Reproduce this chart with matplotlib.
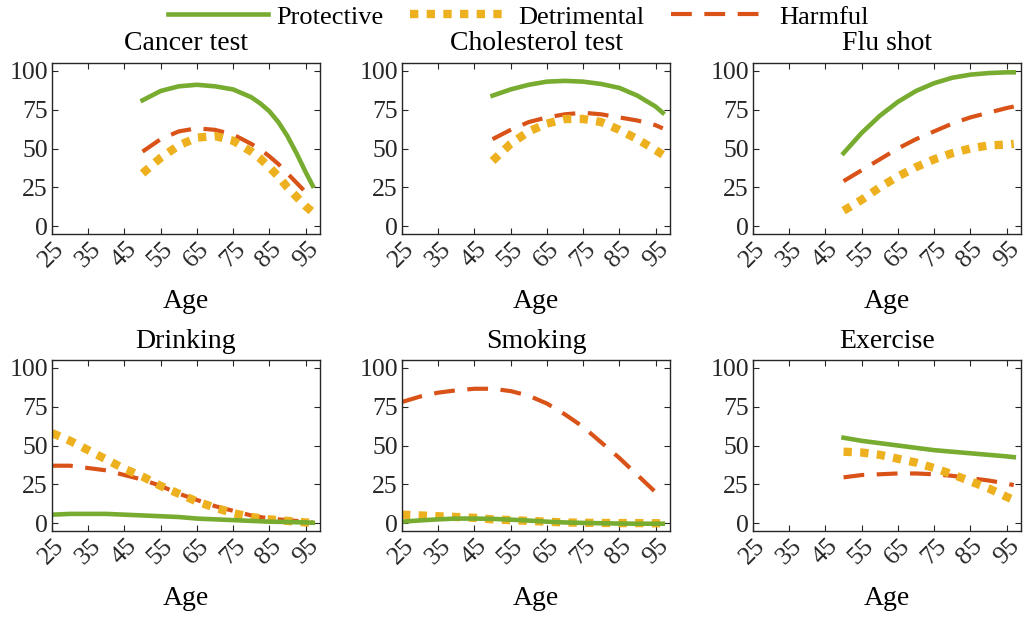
import numpy as np
import matplotlib
matplotlib.use("Agg")
import matplotlib.pyplot as plt
from matplotlib.lines import Line2D

plt.rcParams['font.family'] = ['Liberation Serif', 'DejaVu Serif']

AGE_OLD = [50, 55, 60, 65, 70, 75, 80, 85, 90, 95, 97]
AGE_CANCER = [50, 55, 60, 65, 70, 75, 80, 82.5, 85, 87.5, 90, 92.5, 95, 97]
AGE_ALL = [25, 30, 35, 40, 45, 50, 55, 60, 65, 70, 75, 80, 85, 90, 95, 97]

TITLES = ["Cancer test", "Cholesterol test", "Flu shot", "Drinking", "Smoking", "Exercise"]
X_TICKS = [25, 35, 45, 55, 65, 75, 85, 95]
Y_TICKS = [0, 25, 50, 75, 100]

# Protective / Detrimental / Harmful per panel
cancer_prot = [81, 87, 90, 91, 90, 88, 83, 79, 74, 67, 58, 47, 35, 26]
cancer_detr = [34, 44, 52, 57, 58, 55, 48, 43.5, 38, 32, 25, 19, 13, 9]
cancer_harm = [48, 56, 61, 63, 62, 59, 53, 49.5, 45, 40, 34, 28, 22, 18]

chol_prot = [84, 88, 91, 93, 93.5, 93, 91.5, 89, 84, 77, 73]
chol_detr = [42, 53, 61, 66, 69, 69, 67, 62, 56, 49, 46]
chol_harm = [56, 62, 67, 70, 72, 73, 72, 70, 68, 65, 63]

flu_prot = [47, 60, 71, 80, 87, 92, 95.5, 97.5, 98.5, 99, 99]
flu_detr = [10, 17, 25, 32, 38, 43, 47, 50, 52, 52.5, 53]
flu_harm = [29, 36, 43, 50, 56, 61, 66, 70, 73, 76, 77]

drink_prot = [5.5, 6, 6, 6, 5.5, 5, 4.5, 4, 3, 2.5, 2, 1.5, 1, 0.8, 0.5, 0.3]
drink_detr = [58, 53, 47, 41, 35, 30, 24, 19, 14, 10, 6.5, 4, 2.5, 1.5, 0.5, 0.3]
drink_harm = [37, 37, 35.5, 34, 31, 28, 24, 19, 15, 11, 8, 5, 3, 2, 1, 0.5]

smoke_prot = [1, 1.8, 2.5, 3, 3, 2.8, 2.3, 1.7, 1, 0.5, 0.2, 0, -0.2, -0.3, -0.3, -0.3]
smoke_detr = [5.5, 5, 4.5, 4, 3.5, 2.5, 2, 1.5, 1, 0.5, 0.3, 0.2, 0.1, 0.1, 0, 0]
smoke_harm = [78, 81.5, 84, 85.5, 86.5, 86.5, 85, 82, 77, 70, 62, 52, 42, 31, 20, 15]

ex_prot = [55, 53, 51.5, 50, 48.5, 47, 46, 45, 44, 43, 42.5]
ex_detr = [46, 45.5, 44, 41.5, 39, 35.5, 31.5, 27, 22.5, 17, 15]
ex_harm = [29.5, 31, 31.5, 32, 32, 31.5, 30.5, 29, 27.5, 25.5, 24.5]

PANELS = [
    (AGE_CANCER, cancer_prot, cancer_detr, cancer_harm),
    (AGE_OLD, chol_prot, chol_detr, chol_harm),
    (AGE_OLD, flu_prot, flu_detr, flu_harm),
    (AGE_ALL, drink_prot, drink_detr, drink_harm),
    (AGE_ALL, smoke_prot, smoke_detr, smoke_harm),
    (AGE_OLD, ex_prot, ex_detr, ex_harm),
]

GREEN = "#77AC30"
YELLOW = "#EDB120"
RED = "#D95319"
SERIF = ['Liberation Serif', 'DejaVu Serif']

W, H = 1026, 618
fig = plt.figure(figsize=(W / 100, H / 100), dpi=100)

col_left = [52, 402, 753]
row_top = [63, 360]
ax_w, ax_h = 268, 171


def style_for(kind):
    if kind == 0:
        return dict(color=GREEN, lw=3.3, ls="-", solid_joinstyle="round")
    if kind == 1:
        return dict(color=YELLOW, lw=6, ls=(0, (1, 1)), dash_capstyle="butt")
    return dict(color=RED, lw=3, ls=(0, (5, 3)), dash_capstyle="butt")


for i, (title, panel) in enumerate(zip(TITLES, PANELS)):
    r, c = divmod(i, 3)
    rect = [col_left[c] / W, 1 - (row_top[r] + ax_h) / H, ax_w / W, ax_h / H]
    ax = fig.add_axes(rect)
    ages = panel[0]
    # harmful underneath, protective on top
    for k in (2, 1, 0):
        ax.plot(ages, panel[k + 1], **style_for(k))
    ax.set_xlim(25, 99)
    ax.set_ylim(-5, 105)
    ax.set_xticks(X_TICKS)
    ax.set_xticklabels([str(t) for t in X_TICKS], rotation=45, fontsize=18.5,
                       family=SERIF, color="#262626")
    ax.set_yticks(Y_TICKS)
    ax.set_yticklabels([str(t) for t in Y_TICKS], fontsize=18.5,
                       family=SERIF, color="#262626")
    ax.tick_params(direction="in", top=True, right=True, length=4, width=0.8,
                   colors="#262626", pad=3)
    for s in ax.spines.values():
        s.set_color("#262626")
        s.set_linewidth(1.0)
    ax.set_title(title, fontsize=20, pad=9)
    ax.set_xlabel("Age", fontsize=20, labelpad=12)

handles = [Line2D([], [], **style_for(k)) for k in range(3)]
fig.legend(handles, ["Protective", "Detrimental", "Harmful"], loc="upper center",
           bbox_to_anchor=(0.505, 1.03), ncol=3, frameon=False, fontsize=19,
           handlelength=3.8, handletextpad=0.3, columnspacing=1.0)

fig.savefig("out.png", dpi=100)
